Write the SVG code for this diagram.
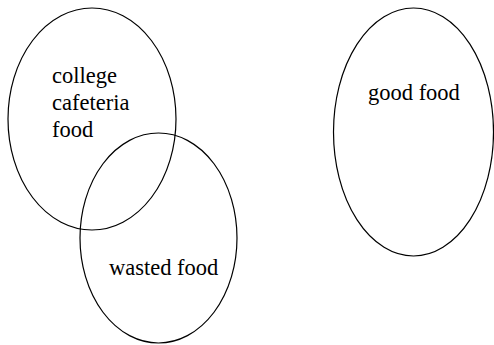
<svg xmlns="http://www.w3.org/2000/svg" width="494" height="345" viewBox="0 0 494 345">
<style>
.n{fill:none;stroke:#000;stroke-width:1.2}
.t{font-family:"Liberation Serif","Times New Roman",serif;font-size:22.5px;fill:#000}
</style>
<rect width="494" height="345" fill="#fff"/>
<g id="college">
<ellipse class="n" cx="92" cy="119" rx="84" ry="111"/>
<text class="t" x="52" y="83">college</text>
<text class="t" x="52" y="110">cafeteria</text>
<text class="t" x="52" y="137">food</text>
</g>
<g id="wasted">
<ellipse class="n" cx="158.5" cy="238" rx="78.5" ry="105"/>
<text class="t" x="109" y="275">wasted food</text>
</g>
<g id="good">
<ellipse class="n" cx="413.5" cy="132" rx="80" ry="124"/>
<text class="t" x="368" y="100">good food</text>
</g>
<g id="connectors"/>
</svg>
